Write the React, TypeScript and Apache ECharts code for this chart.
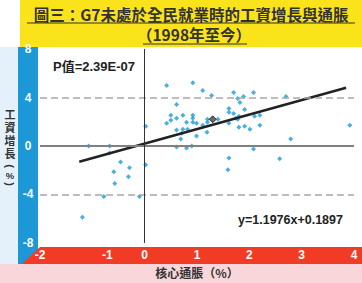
import React, { useEffect, useRef } from "react";
import * as echarts from "echarts";

const coreInflation = [-1.07, -0.67, -0.29, -0.67, -0.46, -0.59, -0.29, -0.31, -0.57, -0.78, -0.1, -1.19, 0.02, 0.02,
  0.42, 0.92, 1.11, 0.61, 0.5, 0.73, 0.92, 0.42, 0.5, 0.61, 0.92, 0.8, 0.92, 0.99, 1.11, 1.2, 1.2, 0.73, 0.61, 0.82, 0.71, 0.99, 0.69, 0.61, 0.8, 0.9, 1.19,
  1.28, 1.7, 1.78, 1.82, 1.89, 2.08, 1.61, 1.7, 1.61, 1.91, 1.4, 1.61, 1.78, 1.8, 1.74, 2.1, 2.2, 2.2, 1.8, 1.91, 2.01, 2.08, 1.61, 1.59,
  2.7, 2.79, 2.58, 3.92];
const wageGrowth = [0, 0, -0.08, -0.57, -1.31, -2.12, -1.8, -2.53, -3.1, -4.16, -4.16, -5.88, 1.63, -1.55,
  4.98, 5.22, 4.57, 3.43, 2.53, 2.53, 2.53, 1.88, 2.12, 2.29, 2.29, 1.96, 1.96, 1.88, 1.71, 2.2, 1.96, 1.39, 1.31, 1.39, 1.06, 0.82, 0.57, -0.08, -0.16, 0, 1.14,
  4.16, 4.41, 3.92, 3.59, 4.08, 4.41, 3.1, 2.69, 2.78, 3.02, 2.2, 1.88, 2.2, 2.45, 2.29, 2.45, 2.53, 1.71, 1.55, 1.63, 1.39, -0.24, -0.98, -1.96,
  4.08, 0.57, -1.06, 1.71];
const meanPoint = [1.3, 2.2];
const trendX = [-1.25, 3.85];
const trendY = [-1.3, 4.8];
const xTicks = [-2, -1, 0, 1, 2, 3, 4];
const yTicks = [-8, -4, 0, 4, 8];
const refLines = [4, -4];

const titleLine1 = "圖三：G7未處於全民就業時的工資增長與通脹";
const titleLine2 = "（1998年至今）";
const pText = "P值=2.39E-07";
const eqText = "y=1.1976x+0.1897";
const xName = "核心通脹（%）";
const yNameMain = ["工", "資", "增", "長"];
const yNameUnit = ["(", "%", ")"];

export default function App() {
  const ref = useRef<HTMLDivElement>(null);
  useEffect(() => {
    document.body.style.margin = "0";
    const chart = echarts.init(ref.current!, null, { renderer: "svg" });
    const pts = coreInflation.map((x, i) => [x, wageGrowth[i]]);
    const font = "'Liberation Sans', 'Noto Sans CJK TC', sans-serif";
    const cjk = "'Noto Sans CJK TC', 'Liberation Sans', sans-serif";
    const mainY = [115, 128, 141, 154];
    const unitY = [166, 175, 184];
    chart.setOption({
      animation: false,
      backgroundColor: "#ffffff",
      grid: { left: 40, right: 8, top: 49, bottom: 38 },
      xAxis: {
        type: "value",
        min: xTicks[0],
        max: xTicks[xTicks.length - 1],
        interval: 1,
        z: 10,
        axisLine: { show: false },
        axisTick: { show: false },
        splitLine: { show: false },
        name: xName,
        nameLocation: "middle",
        nameGap: 23,
        nameTextStyle: { fontFamily: cjk, fontWeight: "bold", fontSize: 12, color: "#333" },
        axisLabel: {
          margin: 6,
          color: "#ffffff",
          fontWeight: "bold",
          fontSize: 12,
          fontFamily: font,
          formatter: (v: number) => (v === -1 ? "{s|-1}" : String(v)),
          rich: { s: { padding: [0, 0, 0, 30], color: "#fff", fontWeight: "bold", fontSize: 12, fontFamily: font } },
        },
      },
      yAxis: {
        type: "value",
        min: yTicks[0],
        max: yTicks[yTicks.length - 1],
        interval: 4,
        z: 10,
        axisLine: { show: false },
        axisTick: { show: false },
        splitLine: { show: false },
        axisLabel: {
          margin: 12,
          align: "center",
          color: "#ffffff",
          fontWeight: "bold",
          fontSize: 12,
          fontFamily: font,
        },
      },
      graphic: [
        { type: "rect", z: -10, shape: { x: 0, y: 47, width: 20, height: 217 }, style: { fill: "#e4f1fa" } },
        { type: "rect", z: -10, shape: { x: 0, y: 264, width: 362, height: 19 }, style: { fill: "#f9d6da" } },
        { type: "rect", z: -10, shape: { x: 20, y: 0, width: 342, height: 47 }, style: { fill: "#fbe31c" } },
        { type: "rect", z: -10, shape: { x: 18, y: 47, width: 20, height: 217 }, style: { fill: "#1b98d5" } },
        { type: "polygon", z: -9, shape: { points: [[40, 247], [362, 247], [362, 264], [22, 264]] }, style: { fill: "#f23b24" } },
        { type: "text", x: 191, y: 14, style: { text: titleLine1, fontFamily: cjk, fontWeight: "bold", fontSize: 15.5, fill: "#333", textAlign: "center", textVerticalAlign: "middle" } },
        { type: "line", shape: { x1: 27, y1: 23, x2: 355, y2: 23 }, style: { stroke: "#333", lineWidth: 1.2 } },
        { type: "text", x: 194, y: 34, style: { text: titleLine2, fontFamily: cjk, fontWeight: "bold", fontSize: 15.5, fill: "#333", textAlign: "center", textVerticalAlign: "middle" } },
        { type: "line", shape: { x1: 143, y1: 44, x2: 247, y2: 44 }, style: { stroke: "#333", lineWidth: 1.2 } },
        ...yNameMain.map((t, i) => ({
          type: "text", x: 10, y: mainY[i],
          style: { text: t, fontFamily: font, fontWeight: "bold", fontSize: 11, fill: "#333", textAlign: "center", textVerticalAlign: "middle" },
        })),
        ...yNameUnit.map((t, i) => ({
          type: "text", x: 10, y: unitY[i],
          rotation: i === 1 ? 0 : -Math.PI / 2,
          style: { text: t, fontFamily: font, fontWeight: "bold", fontSize: i === 1 ? 9.5 : 11, fill: "#333", textAlign: "center", textVerticalAlign: "middle" },
        })),
        { type: "text", x: 53, y: 66, style: { text: pText, fontFamily: font, fontWeight: "bold", fontSize: 13, fill: "#222", textVerticalAlign: "middle" } },
        { type: "text", x: 238, y: 220, style: { text: eqText, fontFamily: font, fontWeight: "bold", fontSize: 12.5, fill: "#222", textVerticalAlign: "middle" } },
      ],
      series: [
        {
          type: "scatter",
          data: pts,
          symbol: "diamond",
          symbolSize: 5,
          itemStyle: { color: "#1a9bd8" },
          z: 3,
          markLine: {
            silent: true,
            symbol: "none",
            label: { show: false },
            data: [
              { yAxis: 0, lineStyle: { color: "#808080", width: 2, type: "solid" } },
              ...refLines.map((v) => ({ yAxis: v, lineStyle: { color: "#a8a8a8", width: 1.5, type: [7, 4] } })),
              { xAxis: 0, lineStyle: { color: "#333", width: 1, type: "solid" } },
            ],
          },
        },
        {
          type: "line",
          data: trendX.map((x, i) => [x, trendY[i]]),
          symbol: "none",
          lineStyle: { color: "#222", width: 2.5 },
          z: 4,
        },
        {
          type: "scatter",
          data: [meanPoint],
          symbol: "diamond",
          symbolSize: 7,
          itemStyle: { color: "#444", borderColor: "#111", borderWidth: 1 },
          z: 5,
        },
      ],
    });
    return () => chart.dispose();
  }, []);
  return <div ref={ref} style={{ width: 362, height: 283 }} />;
}
